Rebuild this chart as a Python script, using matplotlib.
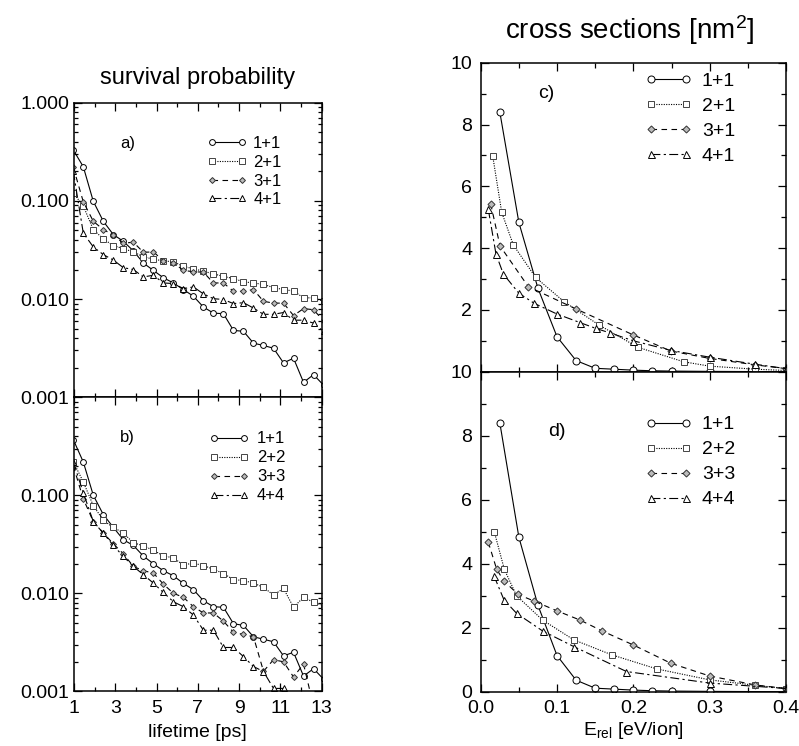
import matplotlib
matplotlib.use("Agg")
import matplotlib.pyplot as plt
from matplotlib.ticker import FixedLocator, FuncFormatter, NullFormatter

plt.rcParams['font.family'] = ['Liberation Sans', 'DejaVu Sans']
plt.rcParams['mathtext.fontset'] = 'custom'
plt.rcParams['mathtext.rm'] = 'Liberation Sans'
plt.rcParams['mathtext.it'] = 'Liberation Sans:italic'

# ---------------- data ----------------
time_ps = [0.965, 1.45, 1.935, 2.42, 2.905, 3.39, 3.875, 4.36, 4.845, 5.33, 5.815, 6.30, 6.785,
           7.27, 7.755, 8.24, 8.725, 9.21, 9.695, 10.18, 10.665, 11.15, 11.635, 12.12, 12.605, 13.09]

a_11 = [0.33, 0.223, 0.099, 0.062, 0.0454, 0.0388, 0.031, 0.0233, 0.0196, 0.0165, 0.0146, 0.0125, 0.0107,
        0.0083, 0.0072, 0.0071, 0.0048, 0.0047, 0.00356, 0.00337, 0.00316, 0.00224, 0.0025, 0.00142, 0.0017, 0.00133]
a_21 = [0.12, 0.089, 0.051, 0.041, 0.035, 0.0327, 0.0302, 0.027, 0.0255, 0.0245, 0.024, 0.0215, 0.0204,
        0.0192, 0.0181, 0.0170, 0.0162, 0.0150, 0.0146, 0.0141, 0.0131, 0.0125, 0.0121, 0.0103, 0.0103, 0.0095]
a_31 = [0.22, 0.098, 0.062, 0.051, 0.045, 0.037, 0.038, 0.030, 0.0302, 0.0247, 0.0235, 0.0196, 0.019,
        0.0188, 0.0146, 0.0146, 0.0120, 0.0120, 0.0125, 0.0095, 0.0091, 0.0091, 0.0068, 0.0080, 0.0078, 0.006]
a_41 = [0.20, 0.047, 0.034, 0.0284, 0.0250, 0.0209, 0.020, 0.0168, 0.0175, 0.0146, 0.0144, 0.0128, 0.0133,
        0.0113, 0.0101, 0.0099, 0.0090, 0.0092, 0.0081, 0.0070, 0.0070, 0.0073, 0.0061, 0.0061, 0.0057, 0.0047]

b_11 = [0.37, 0.219, 0.100, 0.0636, 0.0471, 0.0352, 0.0308, 0.024, 0.020, 0.017, 0.0151, 0.0126, 0.0109,
        0.0084, 0.0073, 0.0072, 0.0049, 0.0047, 0.0036, 0.0034, 0.0032, 0.0023, 0.0025, 0.00143, 0.0017, 0.00133]
b_22 = [0.22, 0.137, 0.0785, 0.0555, 0.047, 0.0413, 0.0327, 0.0306, 0.0274, 0.0242, 0.0229, 0.0195, 0.0203,
        0.0192, 0.0176, 0.0159, 0.0138, 0.0135, 0.0127, 0.0115, 0.0096, 0.0112, 0.0072, 0.0091, 0.0081, 0.0075]
b_33 = [0.20, 0.092, 0.054, 0.0413, 0.032, 0.0253, 0.0188, 0.017, 0.0161, 0.0124, 0.0100, 0.0091, 0.0073,
        0.0063, 0.0063, 0.0052, 0.0040, 0.0038, 0.0036, 0.0016, 0.0021, 0.0020, 0.0014, 0.0019, 0.0007, 0.0005]
b_44 = [0.22, 0.106, 0.054, 0.041, 0.0308, 0.0238, 0.0188, 0.0155, 0.0127, 0.0102, 0.0082, 0.0073, 0.0060,
        0.0042, 0.0042, 0.0028, 0.0028, 0.00226, 0.00179, 0.00159, 0.00107, 0.00107, 0.0007, 0.0005, 0.0004, 0.0003]

c_11_x = [0.025, 0.05, 0.075, 0.1, 0.125, 0.15, 0.175, 0.2, 0.225, 0.25, 0.3, 0.4]
c_11_y = [8.41, 4.83, 2.70, 1.13, 0.36, 0.11, 0.08, 0.05, 0.03, 0.02, 0.01, 0.0]
c_21_x = [0.0157, 0.0275, 0.0428, 0.072, 0.109, 0.155, 0.206, 0.266, 0.30, 0.36, 0.40]
c_21_y = [6.99, 5.16, 4.10, 3.05, 2.27, 1.51, 0.79, 0.32, 0.18, 0.08, 0.04]
c_31_x = [0.0131, 0.0253, 0.0624, 0.125, 0.2, 0.249, 0.30, 0.36, 0.40]
c_31_y = [5.43, 4.07, 2.75, 2.03, 1.19, 0.67, 0.43, 0.22, 0.10]
c_41_x = [0.010, 0.020, 0.0297, 0.050, 0.0703, 0.0996, 0.130, 0.151, 0.170, 0.2, 0.249, 0.30, 0.36, 0.40]
c_41_y = [5.25, 3.81, 3.16, 2.54, 2.21, 1.87, 1.59, 1.40, 1.25, 1.0, 0.69, 0.47, 0.24, 0.10]

d_11_x = [0.025, 0.05, 0.075, 0.1, 0.125, 0.15, 0.175, 0.2, 0.225, 0.25, 0.3, 0.4]
d_11_y = [8.41, 4.83, 2.70, 1.13, 0.36, 0.11, 0.08, 0.05, 0.03, 0.02, 0.01, 0.0]
d_22_x = [0.0178, 0.031, 0.047, 0.081, 0.122, 0.172, 0.231, 0.30, 0.36, 0.40]
d_22_y = [5.0, 3.82, 3.0, 2.24, 1.62, 1.15, 0.71, 0.37, 0.20, 0.10]
d_33_x = [0.010, 0.021, 0.0305, 0.049, 0.070, 0.0996, 0.130, 0.159, 0.2, 0.249, 0.30, 0.36, 0.40]
d_33_y = [4.67, 3.82, 3.46, 3.04, 2.83, 2.53, 2.24, 1.90, 1.46, 0.89, 0.49, 0.21, 0.10]
d_44_x = [0.0174, 0.0305, 0.047, 0.081, 0.122, 0.191, 0.30, 0.40]
d_44_y = [3.62, 2.87, 2.45, 1.90, 1.41, 0.63, 0.27, 0.10]

labels_a = ["1+1", "2+1", "3+1", "4+1"]
labels_b = ["1+1", "2+2", "3+3", "4+4"]

# ---------------- styles ----------------
STY = [
    dict(ls='-', marker='o', ms=4.2, mfc='white', mec='black', color='black'),
    dict(ls=(0, (1, 1.2)), marker='s', ms=3.8, mfc='white', mec='#444444', color='black'),
    dict(ls=(0, (5, 4)), marker='D', ms=3.0, mfc='#bbbbbb', mec='#333333', color='black'),
    dict(ls=(0, (8, 3, 2, 3)), marker='^', ms=4.2, mfc='white', mec='black', color='black'),
]

W, H = 799, 746
fig = plt.figure(figsize=(W / 100, H / 100), dpi=100)


def rect(x0, x1, y0, y1):
    return [x0 / W, 1 - y1 / H, (x1 - x0) / W, (y1 - y0) / H]


ax_a = fig.add_axes(rect(74, 321.7, 102.7, 397.3))
ax_b = fig.add_axes(rect(74, 321.7, 397.3, 691.3))
ax_c = fig.add_axes(rect(480.7, 786, 62.7, 371.7))
ax_d = fig.add_axes(rect(480.7, 786, 371.7, 691.7))

LW = 0.8


def style_left(ax, show_x, hide_top_label):
    ax.set_yscale('log')
    ax.set_xlim(1, 13)
    ax.set_ylim(0.001, 1.0)
    ax.xaxis.set_major_locator(FixedLocator([1, 3, 5, 7, 9, 11, 13]))
    ax.xaxis.set_minor_locator(FixedLocator([2, 4, 6, 8, 10, 12]))
    ax.yaxis.set_major_locator(FixedLocator([0.001, 0.01, 0.1, 1.0]))
    mins = [m * 10.0 ** e for e in (-3, -2, -1) for m in range(2, 10)]
    ax.yaxis.set_minor_locator(FixedLocator(mins))
    ax.yaxis.set_minor_formatter(NullFormatter())

    def fmt(v, p):
        if hide_top_label and v > 0.5:
            return ''
        return '%.3f' % v
    ax.yaxis.set_major_formatter(FuncFormatter(fmt))
    if not show_x:
        ax.xaxis.set_major_formatter(NullFormatter())
    ax.tick_params(which='both', direction='in', top=True, right=True, width=0.9, labelsize=14)
    ax.tick_params(which='major', length=5.5)
    ax.tick_params(which='minor', length=3)
    ax.tick_params(axis='x', pad=6)
    for s in ax.spines.values():
        s.set_linewidth(1.1)


def style_right(ax, show_x, hide_zero):
    ax.set_xlim(0, 0.4)
    ax.set_ylim(0, 10)
    ax.xaxis.set_major_locator(FixedLocator([0.0, 0.1, 0.2, 0.3, 0.4]))
    ax.xaxis.set_minor_locator(FixedLocator([0.05, 0.15, 0.25, 0.35]))
    ax.yaxis.set_major_locator(FixedLocator([0, 2, 4, 6, 8, 10]))
    ax.yaxis.set_minor_locator(FixedLocator([1, 3, 5, 7, 9]))

    def fmt(v, p):
        if hide_zero and v < 0.5:
            return ''
        return '%d' % round(v)
    ax.yaxis.set_major_formatter(FuncFormatter(fmt))
    if show_x:
        ax.xaxis.set_major_formatter(FuncFormatter(lambda v, p: '%.1f' % v))
    else:
        ax.xaxis.set_major_formatter(NullFormatter())
    ax.tick_params(which='both', direction='in', top=True, right=True, width=0.9, labelsize=14)
    ax.tick_params(which='major', length=6)
    ax.tick_params(which='minor', length=3.5)
    ax.tick_params(axis='x', pad=6)
    ax.tick_params(axis='y', pad=6)
    for s in ax.spines.values():
        s.set_linewidth(1.1)


style_left(ax_a, False, False)
style_left(ax_b, True, True)
style_right(ax_c, False, True)
style_right(ax_d, True, False)

for ax, series, labs in ((ax_a, (a_11, a_21, a_31, a_41), labels_a),
                         (ax_b, (b_11, b_22, b_33, b_44), labels_b)):
    for ys, st, lab in zip(series, STY, labs):
        ax.plot(time_ps, ys, lw=LW, mew=0.7, label=lab, **st)

for ax, series, labs in ((ax_c, ((c_11_x, c_11_y), (c_21_x, c_21_y), (c_31_x, c_31_y), (c_41_x, c_41_y)), labels_a),
                         (ax_d, ((d_11_x, d_11_y), (d_22_x, d_22_y), (d_33_x, d_33_y), (d_44_x, d_44_y)), labels_b)):
    for (xs, ys), st, lab in zip(series, STY, labs):
        st2 = dict(st)
        st2['ms'] = st['ms'] * 1.2
        ax.plot(xs, ys, lw=LW, mew=0.7, label=lab, **st2)

# legends
ax_a.legend(loc='upper left', bbox_to_anchor=(0.535, 0.886), frameon=False, fontsize=12,
            borderpad=0, borderaxespad=0, handlelength=2.4, handletextpad=0.4,
            labelspacing=0.22, numpoints=2)
ax_b.legend(loc='upper left', bbox_to_anchor=(0.543, 0.884), frameon=False, fontsize=12,
            borderpad=0, borderaxespad=0, handlelength=2.4, handletextpad=0.5,
            labelspacing=0.24, numpoints=2)
ax_c.legend(loc='upper left', bbox_to_anchor=(0.54, 0.97), frameon=False, fontsize=14,
            borderpad=0, borderaxespad=0, handlelength=2.4, handletextpad=0.5,
            labelspacing=0.38, numpoints=2)
ax_d.legend(loc='upper left', bbox_to_anchor=(0.54, 0.862), frameon=False, fontsize=14,
            borderpad=0, borderaxespad=0, handlelength=2.4, handletextpad=0.5,
            labelspacing=0.38, numpoints=2)

ax_a.text(0.219, 0.862, 'a)', transform=ax_a.transAxes, fontsize=12, ha='center', va='center')
ax_b.text(0.217, 0.862, 'b)', transform=ax_b.transAxes, fontsize=12, ha='center', va='center')
ax_c.text(0.216, 0.901, 'c)', transform=ax_c.transAxes, fontsize=14, ha='center', va='center')
ax_d.text(0.249, 0.8125, 'd)', transform=ax_d.transAxes, fontsize=14, ha='center', va='center')

ax_b.set_xlabel('lifetime [ps]', fontsize=14, labelpad=5)
ax_d.set_xlabel(r'E$_{\mathrm{rel}}$ [eV/ion]', fontsize=14, labelpad=2)

fig.text(198 / W, 1 - 78 / H, 'survival probability', fontsize=17, ha='center', va='center')
fig.text(630 / W, 1 - 30 / H, r'cross sections [nm$^2$]', fontsize=20, ha='center', va='center')

fig.savefig('out.png', dpi=100)
